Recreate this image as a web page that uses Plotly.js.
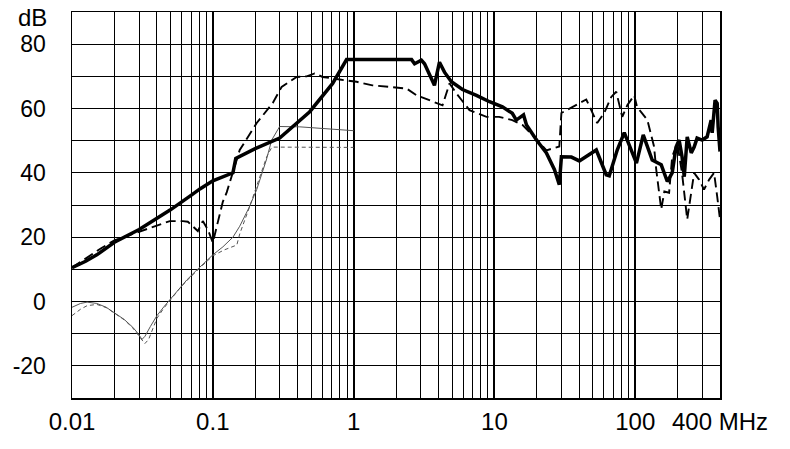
<!DOCTYPE html>
<html>
<head>
<meta charset="utf-8">
<script src="https://cdn.plot.ly/plotly-3.0.1.min.js"></script>
<style>html,body{margin:0;padding:0;background:#fff;}#chart{width:790px;height:449px;}</style>
</head>
<body>
<div id="chart"></div>
<script>
// Thick solid curve
const freqA = [0.01,0.0125,0.015,0.02,0.03,0.04,0.05,0.07,0.081,0.1,0.12,0.139,0.1456,0.2,0.2985,0.488,0.71,0.836,0.891,2.58,2.71,3.03,3.19,3.75,4.07,4.42,4.95,5.93,7.45,9.23,11.4,13.4,14.3,16.1,16.9,19.9,23.4,26.7,28.9,29.9,35.2,40.1,47.2,52.9,62.2,65.4,74.5,83.6,102,114,132,153,169,183,195,205,215,223,234,250,262,275,299,324,346,352,369,382,388,400];
const dbA = [10.5,12.5,14.5,18.4,22.4,25.8,28.5,33,35,37.5,39,40,44.5,47.5,50.8,59,67.8,72.9,75.2,75.2,73.9,75,73.9,67.2,74.4,71.3,68.3,65.9,64.1,62.1,60.5,58.5,56.4,58,54.9,50.2,46.2,41,36.3,45,44.9,43.7,45.6,47.1,39.4,39.1,47.1,52.5,43,51.8,44,42.5,37.3,40,48,50.2,45,38.8,51.2,46.2,48,50.8,50.2,51.2,56.4,52.4,62.6,61.6,54.3,46.6];
// Thick dashed curve
const freqB = [0.01,0.013,0.016,0.02,0.0289,0.0495,0.0613,0.0665,0.0783,0.0849,0.0922,0.1,0.1178,0.1257,0.1553,0.205,0.2667,0.308,0.394,0.464,0.529,0.603,0.796,1.05,1.36,2.38,2.8,4.28,4.8,5.37,6.65,8.78,10.8,13.4,15.8,19.9,23.4,28.9,29.9,34,40.1,44.9,53.7,60.2,67.6,73.3,80.9,87.8,98.4,103,112,122,136,141,153,161,174,183,199,215,234,250,262,284,308,335,363,382,400];
const dbB = [10.5,14,16.5,19,21.4,25,25,24.8,21.9,25,22.4,18.3,31,34,47.1,55.5,61.7,66.7,69.8,70,70.9,69.8,69,68.3,67.2,66.2,64.1,61,67.8,64.7,59.5,57.4,57.4,56.4,54.9,50.5,47,48.2,58.6,60,61.6,62.8,55.5,58.6,63.6,65.2,57.4,61,64.1,60.5,58.5,56.4,48.2,41,28.6,34.2,33.8,45,49.2,39.9,25.5,34.8,40,37.9,34.8,37.9,40,32.7,25.5];
// Thin solid curve
const freqC = [0.01,0.0115,0.0128,0.015,0.0175,0.02,0.0235,0.027,0.0295,0.0314,0.033,0.036,0.0401,0.045,0.0495,0.057,0.0654,0.075,0.0849,0.1,0.118,0.139,0.1553,0.18,0.205,0.24,0.262,0.2985,0.414,1.0];
const dbC = [-1.8,-0.6,-0.2,-0.6,-1.8,-3.4,-5.6,-8,-10,-11.8,-10.8,-7.8,-4.4,-1.6,0.6,3.8,6.7,9.3,11.5,14.5,17,20,23.4,29,34.8,44,50.2,54.4,54.3,53.1];
// Thin dashed curve
const freqD = [0.01,0.0115,0.0128,0.015,0.0175,0.02,0.0235,0.027,0.03,0.0329,0.035,0.038,0.0401,0.045,0.0495,0.057,0.0654,0.075,0.0849,0.1,0.12,0.143,0.148,0.1553,0.183,0.2415,0.262,0.27,1.0];
const dbD = [-4.4,-2.4,-1.3,-0.9,-1.9,-3.5,-5.7,-8.2,-10.8,-13.1,-11.8,-7.5,-5.2,-2,0.4,3.6,6.5,9.1,11.3,14.2,16,17.3,17.5,21,29.6,45,47.9,48,47.9];

const xTickVals = [0.01,0.1,1,10,100,400];
const xTickText = ['0.01','0.1','1','10','100','400 MHz'];
const yTickVals = [-20,0,20,40,60,80];
const yTickText = ['-20','0','20','40','60','80'];

const xMinor = [];
[0.01,0.1,1,10,100].forEach(d => { for (let k = 1; k <= 9; k++) { const v = +(k*d).toPrecision(3); if (v <= 400) xMinor.push(v); } });
const yMinor = [];
for (let v = -30; v <= 90; v += 10) yMinor.push(v);

const FONT = 'Liberation Sans, Arial, sans-serif';

const traces = [
  {x: freqD, y: dbD, mode: 'lines', line: {color: '#555', width: 1, dash: '4px,3px'}},
  {x: freqC, y: dbC, mode: 'lines', line: {color: '#555', width: 1}},
  {x: freqB, y: dbB, mode: 'lines', line: {color: '#000', width: 1.9, dash: '10px,5px'}},
  {x: freqA, y: dbA, mode: 'lines', line: {color: '#000', width: 3.5}}
];

const layout = {
  width: 790, height: 449,
  margin: {l: 72, r: 70, t: 12, b: 51},
  paper_bgcolor: '#fff', plot_bgcolor: '#fff',
  showlegend: false,
  font: {family: FONT, color: '#000'},
  xaxis: {
    type: 'log', range: [-2, Math.log10(400)],
    tickmode: 'array', tickvals: xTickVals, ticktext: xTickText,
    tickfont: {size: 24, family: FONT, color: '#000'},
    showgrid: true, gridcolor: '#000', gridwidth: 2,
    minor: {tickmode: 'array', tickvals: xMinor, showgrid: true, gridcolor: '#000', gridwidth: 1, ticklen: 0},
    showline: true, linecolor: '#000', linewidth: 1.5, mirror: true,
    zeroline: false, ticks: '', ticklabelstandoff: 2
  },
  yaxis: {
    range: [-30, 90],
    tickmode: 'array', tickvals: yTickVals, ticktext: yTickText,
    tickfont: {size: 23, family: FONT, color: '#000'},
    showgrid: true, gridcolor: '#000', gridwidth: 1,
    minor: {tickmode: 'array', tickvals: yMinor, showgrid: true, gridcolor: '#000', gridwidth: 1, ticklen: 0},
    showline: true, linecolor: '#000', linewidth: 1.5, mirror: true,
    zeroline: false, ticks: '', ticklabelstandoff: 20
  },
  annotations: [
    {text: 'dB', xref: 'paper', yref: 'paper', x: (32.5 - 72) / 648, y: (398 - 17) / 386,
     xanchor: 'center', yanchor: 'middle', showarrow: false, font: {size: 24, family: FONT, color: '#000'}}
  ]
};

Plotly.newPlot('chart', traces, layout, {displayModeBar: false, staticPlot: true});
</script>
</body>
</html>
